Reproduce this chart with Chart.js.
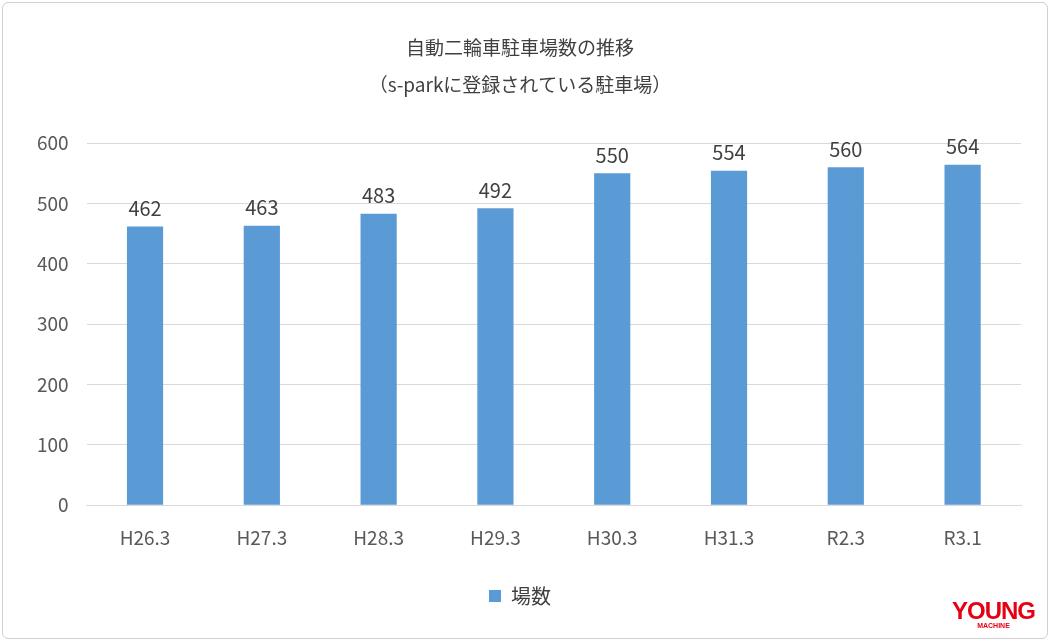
<!DOCTYPE html>
<html><head><meta charset="utf-8">
<script src="https://cdn.jsdelivr.net/npm/chart.js@4"></script>
<style>
html,body{margin:0;padding:0;background:#fff;}
#wrap{position:absolute;left:2px;top:2px;width:1046px;height:637px;border:1px solid #d0d0d0;border-radius:6px;box-sizing:border-box;}
canvas{position:absolute;left:0;top:0;}
#logo{position:absolute;right:12px;bottom:8px;font-family:"Liberation Sans";font-weight:bold;color:#e60012;font-size:24px;letter-spacing:-1px;line-height:22px;text-align:center;}
#logo small{display:block;font-size:7px;letter-spacing:0;line-height:8px;}
</style></head><body>
<div id="wrap"><canvas id="c" width="1044" height="635"></canvas>
<div id="logo">YOUNG<small>MACHINE</small></div></div>
<script>
const categories=["H26.3","H27.3","H28.3","H29.3","H30.3","H31.3","R2.3","R3.1"];
const values=[462,463,483,492,550,554,560,564];
const seriesName="場数";
const titleLines=["自動二輪車駐車場数の推移","（s-parkに登録されている駐車場）"];
const font="'Noto Sans CJK JP','Noto Sans',sans-serif";
const labelPlugin={id:'lbl',afterDatasetsDraw(ch){const c=ch.ctx;const m=ch.getDatasetMeta(0);c.save();c.fillStyle='#404040';c.font="20px "+font;c.textAlign='center';c.textBaseline='bottom';m.data.forEach((b,i)=>c.fillText(values[i],b.x,b.y-8));c.restore();}};
new Chart(document.getElementById('c'),{type:'bar',
data:{labels:categories,datasets:[{label:seriesName,data:values,backgroundColor:'#5B9BD5',barPercentage:0.62,categoryPercentage:0.5}]},
options:{responsive:false,animation:false,
layout:{padding:{left:16,right:26,top:0,bottom:22}},
plugins:{title:{display:true,text:titleLines,color:'#404040',font:{family:font,size:19,weight:'normal',lineHeight:1.95},padding:{top:26,bottom:40}},
legend:{position:'bottom',labels:{color:'#404040',font:{family:font,size:20},boxWidth:12,boxHeight:12,padding:24}},tooltip:{enabled:false}},
scales:{y:{min:0,max:600,ticks:{stepSize:100,color:'#595959',font:{family:font,size:19},padding:18},grid:{color:'#d9d9d9',drawTicks:false},border:{display:false}},
x:{ticks:{color:'#595959',font:{family:font,size:19},padding:13},grid:{display:false},border:{color:'#d9d9d9'}}}},
plugins:[labelPlugin]});
</script></body></html>
